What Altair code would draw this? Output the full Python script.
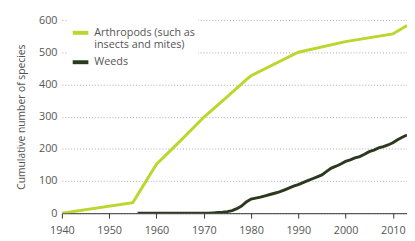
import altair as alt
import pandas as pd

arth_years = [1940, 1955, 1960, 1965, 1970, 1975, 1979, 1980, 1990, 2000, 2010, 2013]
arth_vals = [0, 33, 152, 224, 298, 362, 415, 427, 500, 533, 557, 583]

weed_years = list(range(1956, 2014))
weed_vals = [0] * 16 + [1, 2, 3, 5, 8, 14, 22, 35, 44, 47, 50, 54, 58, 62, 66, 72,
                        78, 84, 89, 95, 101, 107, 113, 119, 130, 140, 146, 153, 161,
                        166, 172, 176, 183, 191, 196, 203, 207, 212, 219, 228, 236, 243]

series = ["Arthropods (such as insects and mites)", "Weeds"]
colors = ["#bdd62e", "#2b3a1e"]

df = pd.concat([
    pd.DataFrame({"year": arth_years, "value": arth_vals, "series": series[0]}),
    pd.DataFrame({"year": weed_years, "value": weed_vals, "series": series[1]}),
])

font = "Open Sans"
grey = "#555555"

chart = alt.Chart(df).mark_line(strokeWidth=3, clip=True).encode(
    x=alt.X("year:Q", scale=alt.Scale(domain=[1940, 2013], nice=False, zero=False),
            axis=alt.Axis(values=[1940, 1950, 1960, 1970, 1980, 1990, 2000, 2010],
                          format="d", title=None, grid=False, domainColor="#333333",
                          tickColor="#333333", tickSize=5, labelPadding=7,
                          labelFontSize=11, labelColor=grey, labelFont=font,
                          labelFlush=False)),
    y=alt.Y("value:Q", scale=alt.Scale(domain=[0, 600], nice=False),
            axis=alt.Axis(values=[0, 100, 200, 300, 400, 500, 600],
                          title="Cumulative number of species", titleFontSize=10.5,
                          titleFont=font, titleColor=grey, titleFontWeight="normal",
                          titlePadding=12, domain=False, ticks=False, labelPadding=5,
                          labelFontSize=11, labelColor=grey, labelFont=font,
                          grid=True, gridColor="#aaaaaa", gridDash=[1, 2], gridWidth=1)),
    color=alt.Color("series:N", scale=alt.Scale(domain=series, range=colors),
                    legend=alt.Legend(title=None, orient="none", legendX=6, legendY=0,
                                      fillColor="white", padding=3,
                                      symbolType="stroke", symbolSize=256,
                                      symbolStrokeWidth=4, labelFontSize=11,
                                      labelFont=font, labelColor=grey, labelLimit=300,
                                      rowPadding=2,
                                      labelExpr="datum.label == 'Weeds' ? 'Weeds' : ['Arthropods (such as', 'insects and mites)']")),
    order="year:Q",
).properties(
    width=352, height=197,
    autosize=alt.AutoSizeParams(type="none"),
    padding={"left": 55, "top": 10, "right": 0, "bottom": 24},
).configure_view(stroke=None)

chart.save("out.html", embed_options={"renderer": "svg", "actions": False})
